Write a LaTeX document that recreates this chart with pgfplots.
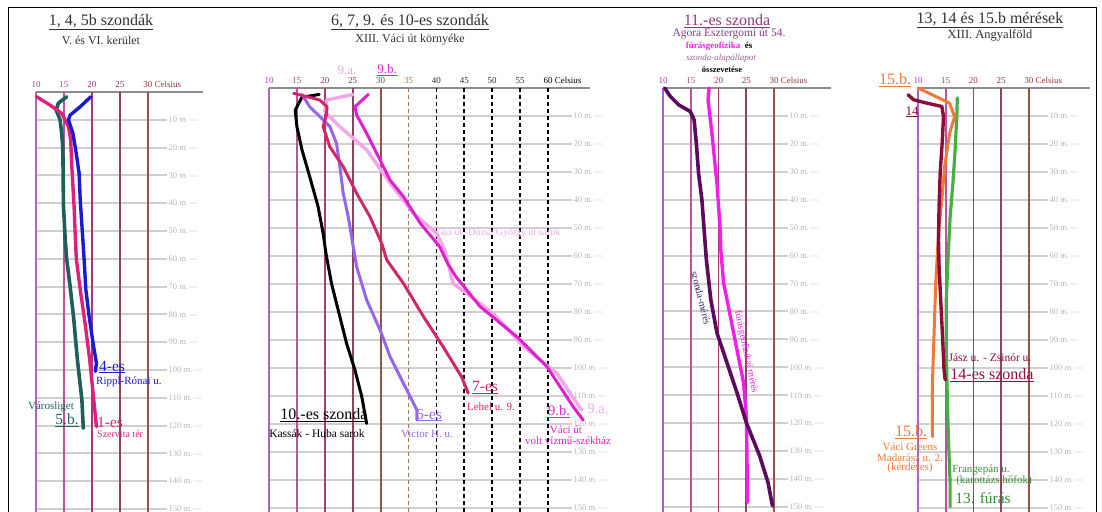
\documentclass[border=0pt]{standalone}
\usepackage{fontspec}
\setmainfont{Liberation Serif}
\usepackage{pgfplots}
\pgfplotsset{compat=1.18}

% vertical line / tick label colours (purple -> brown)
\definecolor{v10}{HTML}{B060C8}
\definecolor{v15}{HTML}{C050A0}
\definecolor{v20}{HTML}{A83878}
\definecolor{v25}{HTML}{904060}
\definecolor{v30}{HTML}{985048}
\definecolor{v35}{HTML}{A07858}
\definecolor{t10}{HTML}{A040B0}
\definecolor{t15}{HTML}{B04090}
\definecolor{t20}{HTML}{A03070}
\definecolor{t25}{HTML}{903060}
\definecolor{t30}{HTML}{903838}
\definecolor{gridc}{HTML}{CFCFCF}
\definecolor{topc}{HTML}{8C8C8C}
\definecolor{tickgray}{HTML}{B4B4B4}
\definecolor{titlec}{HTML}{303030}
% series
\definecolor{teal5}{HTML}{1F5F5A}
\definecolor{pink1}{HTML}{E01F7A}
\definecolor{blue4}{HTML}{1A1AD0}
\definecolor{viol6}{HTML}{9466E8}
\definecolor{crim7}{HTML}{D0266A}
\definecolor{lpink9a}{HTML}{F2A8E6}
\definecolor{mag9b}{HTML}{E020D0}
\definecolor{dpur11}{HTML}{5C0A5C}
\definecolor{mag11}{HTML}{F020E8}
\definecolor{green13}{HTML}{44B044}
\definecolor{dred14}{HTML}{8C0C3C}
\definecolor{orange15}{HTML}{F07838}
\definecolor{agora}{HTML}{8A3A80}
\definecolor{navy}{HTML}{3A2A6A}

\newcommand{\fttl}{\fontsize{16}{17}\selectfont}
\newcommand{\fsub}{\fontsize{12}{13}\selectfont}
\newcommand{\flab}{\fontsize{15.5}{16}\selectfont}
\newcommand{\fsml}{\fontsize{11}{12}\selectfont}

\pgfplotsset{
  panel/.style={
    scale only axis, clip=false,
    y dir=reverse, ymin=0, ymax=150, xmin=10,
    axis line style={draw=none},
    major tick length=0pt,
    ytick={10,20,...,150},
    ymajorgrids, grid style={gridc, line width=2pt},
    yticklabel pos=right,
    yticklabel={\pgfmathprintnumber{\tick}~m.\,---},
    yticklabel style={font=\fontsize{8.5}{9}\selectfont, text=tickgray, inner sep=1.5pt},
    xticklabel pos=upper,
    xticklabel style={font=\fontsize{9}{10}\selectfont, anchor=south, inner sep=0pt, yshift=4.5pt},
    /pgf/number format/assume math mode=true,
  },
  ticks30/.style={xtick={10,15,20,25,30},
    xticklabels={\textcolor{t10}{10},\textcolor{t15}{15},\textcolor{t20}{20},\textcolor{t25}{25},
      \textcolor{t30}{30}\rlap{\textcolor{t30}{\ Celsius}}}},
  vline/.style={line width=1.8pt},
  dline/.style={line width=1.8pt, dash pattern=on 4pt off 3pt},
  topline/.style={topc, line width=1.4pt},
  probe/.style={line width=#1, line join=round, line cap=round},
}

\begin{document}
\begin{tikzpicture}[x=1pt, y=1pt]
\path[use as bounding box] (0,0) rectangle (1102,511);

% ---------- panel 1: 1, 4, 5b ----------
\begin{axis}[panel, ticks30, at={(36pt,419pt)}, anchor=north west, width=131pt, height=417pt,
  xmax=33.4]
\addplot[topline] coordinates {(10,0) (39.8,0)};
\addplot[v10, vline] coordinates {(10,0) (10,152)};
\addplot[v15, vline] coordinates {(15,0) (15,152)};
\addplot[v20, vline] coordinates {(20,0) (20,152)};
\addplot[v25, vline] coordinates {(25,0) (25,152)};
\addplot[v30, vline] coordinates {(30,0) (30,152)};
% 5.b Varosliget
\addplot[teal5, probe=3.6pt] coordinates {
 (15.5,1.7) (14.0,4) (13.6,6.5) (14.3,10) (14.6,15) (14.8,20.5) (14.9,40.5)
 (15.2,52.5) (15.5,60.4) (16.1,70) (16.7,80.8) (17.4,96.4) (18.2,110.8) (18.45,121)};
% 1-es Szervita ter
\addplot[pink1, probe=3.4pt] coordinates {
 (10.1,1.7) (12.5,4.7) (14.6,7.7) (15.8,12.5) (16.2,17.3) (16.4,26.9) (16.8,41)
 (17.0,51) (17.2,60) (17.9,71) (18.75,83) (19.6,96.4) (20.2,108.4) (20.8,120.4)};
% 4-es Rippl-Ronai u.
\addplot[blue4, probe=3.4pt] coordinates {
 (19.8,1.7) (17.9,5.3) (16.1,8.3) (15.8,10) (16.6,14.9) (17.1,20.9) (17.7,29.2)
 (17.9,38.8) (18.3,51) (18.6,60.4) (18.9,71) (19.5,80.8) (20.2,90.4) (20.8,97.6) (20.6,100.5)};
\end{axis}

% ---------- panel 2: 6, 7, 9, 10 ----------
\begin{axis}[panel, at={(269pt,423pt)}, anchor=north west, width=303pt, height=420pt,
  xmax=64.3, xtick={10,15,...,60},
  xticklabels={\textcolor{t10}{10},\textcolor{t15}{15},\textcolor{t20}{20},\textcolor{t25}{25},
    \textcolor{t30}{30},\textcolor{v35}{35},\textcolor{titlec}{40},
    \textcolor{titlec}{45},\textcolor{titlec}{50},\textcolor{titlec}{55},
    \textcolor{black}{60}\rlap{\ Celsius}}]
\addplot[topline] coordinates {(10,0) (67.5,0)};
\addplot[v10, vline] coordinates {(10,0) (10,152)};
\addplot[v15, vline] coordinates {(15,0) (15,152)};
\addplot[v20, vline] coordinates {(20,0) (20,152)};
\addplot[v25, vline] coordinates {(25,0) (25,152)};
\addplot[v30, vline] coordinates {(30,0) (30,152)};
\addplot[v35, dline] coordinates {(35,0) (35,152)};
\addplot[black, dline] coordinates {(40,0) (40,152)};
\addplot[black, dline] coordinates {(45,0) (45,152)};
\addplot[black, dline] coordinates {(50,0) (50,152)};
\addplot[black, dline] coordinates {(55,0) (55,152)};
\addplot[black, dline] coordinates {(60,0) (60,152)};
% 9.a Vaci ut - Dozsa Gy. ut
\addplot[lpink9a, probe=3.4pt] coordinates {
 (25.1,2.3) (20.3,4.3) (20.0,8.5) (22.7,13.8) (27.5,22.1) (31.7,34) (35.9,44.8)
 (40.1,52) (41.5,58) (43.0,69.8) (46.5,75) (50.2,80.5) (55.6,92.4) (61.6,101.9) (66.0,115)};
% 9.b Vaci ut, volt vizmu
\addplot[mag9b, probe=3pt] coordinates {
 (27.8,2.3) (25.4,6.7) (25.7,9.6) (27.5,16.2) (29.9,25.7) (31.7,32.9) (34.1,38.8)
 (37.1,48.3) (40.6,56.7) (42.0,62.6) (43.5,67.4) (47.8,78) (54.4,88.8) (59.8,99.5)
 (64.5,113.8) (66.3,118.6)};
% 10-es Kassak - Huba
\addplot[black, probe=3pt] coordinates {
 (19.0,2.3) (15.9,3.3) (14.7,7.9) (15.0,13.8) (15.9,22) (17.3,31.7) (18.8,42.4)
 (19.7,51.9) (20.2,59) (21.2,69.8) (22.7,81.7) (23.9,91.2) (25.4,100.7) (26.6,110) (27.5,119.8)};
% 6-es Victor H. u.
\addplot[viol6, probe=3pt] coordinates {
 (15.9,2.3) (17.3,6.7) (19.1,10.2) (20.9,13.8) (22.1,19.8) (22.7,28.1) (23.3,37.6)
 (24.2,46) (25.1,56.7) (25.7,63.8) (27.5,75.7) (29.9,86.4) (31.7,96) (34.1,105.5)
 (36.5,115) (36.5,118.6)};
% 7-es Lehel u. 9.
\addplot[crim7, probe=3pt] coordinates {
 (14.4,1.9) (16.8,3.1) (19.1,4.3) (20.4,6.7) (20.3,9.6) (19.7,13.8) (20.9,21)
 (23.3,28.1) (25.7,37.6) (28.1,46) (30.2,55.5) (31.1,61.4) (34.1,69.8) (37.7,81.7)
 (41.2,92.4) (44.5,103.1) (45.7,109)};
\end{axis}

% ---------- panel 3: 11-es ----------
\begin{axis}[panel, ticks30, at={(663pt,423pt)}, anchor=north west, width=125pt, height=419pt,
  xmax=32.5]
\addplot[topline] coordinates {(10,0) (40.3,0)};
\addplot[v10, vline] coordinates {(10,0) (10,152)};
\addplot[v15, vline] coordinates {(15,0) (15,152)};
\addplot[v20, vline] coordinates {(20,0) (20,152)};
\addplot[v25, vline] coordinates {(25,0) (25,152)};
\addplot[v30, vline] coordinates {(30,0) (30,152)};
% furasgeofizikai meres
\addplot[mag11, probe=3.4pt] coordinates {
 (18.3,0) (18.1,4.2) (18.8,16.1) (19.7,34) (20.3,50.6) (20.4,57.8) (20.9,69.7)
 (22.1,81.6) (23.3,93.6) (24.5,105.5) (25.0,117.4) (25.1,129.3) (25.2,148.3)};
% szonda-meres
\addplot[dpur11, probe=3.6pt] coordinates {
 (10.3,0) (11.3,3) (12.8,6) (14.9,8.4) (15.6,11.4) (16.0,19.8) (16.4,30.5) (17.0,40)
 (17.4,50.7) (17.8,61.4) (18.6,75.7) (19.7,87.6) (21.5,98.3) (23.3,109) (25.0,119.8)
 (27.4,131.7) (28.9,141.2) (29.7,149.6)};
\end{axis}

% ---------- panel 4: 13, 14, 15.b ----------
\begin{axis}[panel, ticks30, at={(918pt,423pt)}, anchor=north west, width=130pt, height=420pt,
  xmax=33.47]
\addplot[topline] coordinates {(10,0) (41,0)};
\addplot[v10, vline] coordinates {(10,0) (10,152)};
\addplot[v15, vline] coordinates {(15,0) (15,152)};
\addplot[v20, vline] coordinates {(20,0) (20,152)};
\addplot[v25, vline] coordinates {(25,0) (25,152)};
\addplot[v30, vline] coordinates {(30,0) (30,152)};
% 13. furas
\addplot[green13, probe=3.2pt] coordinates {
 (17.1,3.5) (17.0,10.1) (16.7,22) (16.3,34) (15.8,46) (15.5,57.7) (15.1,75.6)
 (15.1,93.5) (15.3,111.4) (15.5,125.7) (15.8,141.2) (15.8,149.6)};
% 15.b Vaci Greens
\addplot[orange15, probe=3pt] coordinates {
 (10,0) (15.7,5.4) (16.6,10.2) (15.7,16.2) (14.8,28.1) (14.3,40) (13.7,51.9)
 (13.2,69.8) (12.9,87.6) (12.6,105.5) (12.6,124.5)};
% 14-es Jasz u. - Zsinor u.
\addplot[dred14, probe=3.4pt] coordinates {
 (8.2,2.4) (9.2,4.2) (11.6,5.4) (14.3,6.6) (14.6,10.2) (14.4,18.5) (14.0,30.4)
 (13.8,42.4) (13.7,54.3) (13.8,63.8) (14.1,75.8) (14.4,87.6) (14.7,100.6) (14.9,104.2)};
\end{axis}

% ---------- frame and texts (pixel coordinates, y downwards) ----------
\begin{scope}[yshift=511pt, y=-1pt]
\draw[black, line width=1pt] (8,515) -- (8,8) -- (1096,8) -- (1096,515);

\tikzset{every node/.style={inner sep=0pt}}

% panel 1
\node[titlec] at (101,22) {\fttl\underline{1, 4, 5b szondák}};
\node[titlec] at (101,40) {\fsub V. és VI. kerület};
\node[blue4, anchor=west] at (99,367) {\flab\underline{4-es}};
\node[blue4, anchor=west] at (96,382) {\fsml Rippl-Rónai u.};
\node[teal5] at (51,407) {\fsml Városliget};
\node[teal5] at (67,420) {\flab\underline{5.b.}};
\node[pink1, anchor=west] at (97,422) {\flab 1-es};
\node[pink1, anchor=west] at (97,434) {\fontsize{10}{11}\selectfont Szervita tér};

% panel 2
\node[titlec] at (410,22) {\fttl\underline{6, 7, 9. és 10-es szondák}};
\node[titlec] at (410,40) {\fsub XIII. Váci út környéke};
\node[lpink9a] at (347,70) {\fontsize{13}{14}\selectfont 9.a.};
\node[mag9b] at (387,70) {\fontsize{13}{14}\selectfont\underline{9.b.}};
\node[lpink9a] at (497,233) {\fontsize{10}{11}\selectfont Váci út -Dózsa György út sarok};
\node[black] at (324,415) {\fttl\underline{10.-es szonda}};
\node[black] at (317,434) {\fontsize{11.5}{12}\selectfont Kassák - Huba sarok};
\node[viol6] at (429,415) {\flab\underline{6-es}};
\node[viol6] at (427,434) {\fsml Victor H. u.};
\node[crim7] at (485,388) {\flab\underline{7-es}};
\node[crim7] at (491,407) {\fsml Lehel u. 9.};
\node[mag9b] at (559,412) {\fontsize{14.5}{15}\selectfont\underline{9.b.}};
\node[mag9b] at (566,430) {\fsml Váci út};
\node[mag9b] at (568,441) {\fsml volt vízmű-székház};
\node[lpink9a] at (598,409) {\fontsize{14.5}{15}\selectfont 9.a.};

% panel 3
\node[agora] at (727,21) {\fttl\underline{11.-es szonda}};
\node[agora] at (729,34) {\fontsize{11.5}{12}\selectfont Agora Esztergomi út 54.};
\node at (719,46.5) {\fontsize{9}{10}\selectfont\bfseries\textcolor{mag11}{fúrásgeofizika}\ \ és};
\node[agora!80] at (721,58.5) {\fontsize{9}{10}\selectfont\itshape szonda-alapállapot};
\node[black] at (722,69.5) {\fontsize{8.5}{9}\selectfont\bfseries összevetése};
\node[navy, rotate=-76] at (701,298) {\fontsize{10}{11}\selectfont szonda-mérés};
\node[mag11, rotate=-78] at (746,352) {\fontsize{9.7}{10}\selectfont fúrásgeofizikai mérés};

% panel 4
\node[titlec] at (990,20) {\fttl\underline{13, 14 és 15.b mérések}};
\node[titlec] at (990,35) {\fontsize{12.5}{13}\selectfont XIII. Angyalföld};
\node[orange15] at (895,80) {\fttl\underline{15.b.}};
\node[dred14] at (912,112) {\fontsize{13}{14}\selectfont\underline{14}};
\node[dred14] at (990,358) {\fontsize{11.5}{12}\selectfont Jász u. - Zsinór u.};
\node[dred14] at (992,375) {\fttl\underline{14-es szonda}};
\node[orange15] at (911,432) {\fttl\underline{15.b.}};
\node[orange15] at (910,447) {\fsml Váci Greens};
\node[orange15] at (910,457.5) {\fsml Madarász u. 2.};
\node[orange15] at (910,468) {\fsml (kérdéses)};
\node[green13!80!black] at (981,470) {\fsml Frangepán u.};
\node[green13!80!black] at (994,481) {\fsml (karottázs hőfok)};
\node[green13!80!black] at (983,498) {\flab 13. fúrás};
\end{scope}
\end{tikzpicture}
\end{document}
